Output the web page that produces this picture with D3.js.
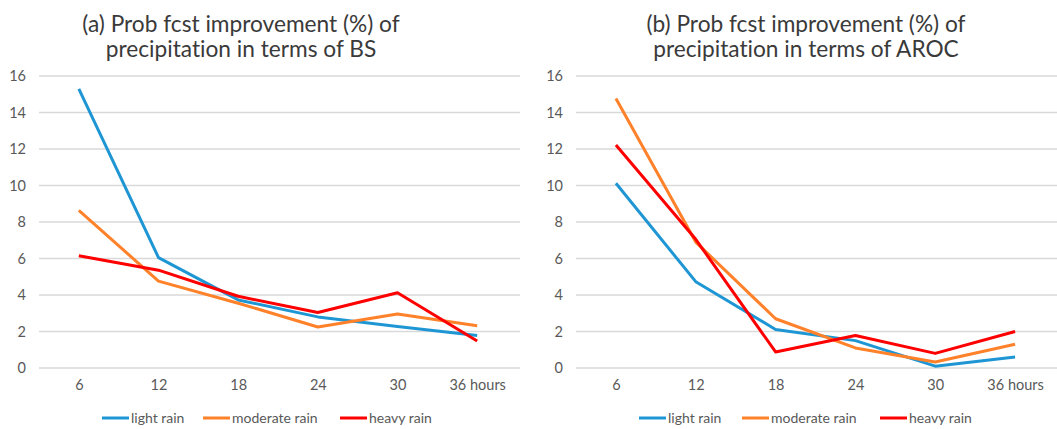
<!DOCTYPE html>
<html>
<head>
<meta charset="utf-8">
<script src="https://cdn.jsdelivr.net/npm/d3@7"></script>
<style>
  body { margin: 0; background: #fff; }
  svg { display: block; font-family: Lato, "Open Sans", sans-serif; font-variant-ligatures: none; }
</style>
</head>
<body>
<svg id="chart" width="1057" height="429"></svg>
<script>
var hours = ['6', '12', '18', '24', '30', '36 hours'];
var yTicks = [0, 2, 4, 6, 8, 10, 12, 14, 16];
var seriesNames = ['light rain', 'moderate rain', 'heavy rain'];
var seriesColors = ['#1f96d4', '#ff8129', '#ff0000'];

// (a) BS improvement
var bsLight = [15.3, 6.05, 3.73, 2.8, 2.27, 1.78];
var bsModerate = [8.64, 4.76, 3.55, 2.25, 2.96, 2.31];
var bsHeavy = [6.15, 5.36, 3.93, 3.04, 4.12, 1.48];

// (b) AROC improvement
var arocLight = [10.12, 4.73, 2.11, 1.5, 0.1, 0.6];
var arocModerate = [14.77, 6.9, 2.7, 1.1, 0.33, 1.3];
var arocHeavy = [12.22, 7.05, 0.88, 1.78, 0.8, 2.0];

(function(d3) {
  'use strict';

  var svg = d3.select('#chart');

  function drawPanel(opts) {
    var g = svg.append('g');

    var x = d3.scalePoint()
      .domain(hours)
      .range([opts.left, opts.right])
      .padding(0.5);

    var y = d3.scaleLinear()
      .domain([0, 16])
      .range([368, 76]);

    // gridlines
    g.selectAll('line.grid')
      .data(yTicks)
      .enter()
      .append('line')
      .attr('x1', opts.left)
      .attr('x2', opts.right + 3)
      .attr('y1', function(d) { return y(d); })
      .attr('y2', function(d) { return y(d); })
      .attr('stroke', '#d9d9d9')
      .attr('stroke-width', 1.3);

    // y axis labels
    var yAxis = d3.axisLeft(y).tickValues(yTicks).tickSize(0).tickPadding(0);
    var ya = g.append('g')
      .attr('transform', 'translate(' + (opts.left - 13) + ',0)')
      .call(yAxis);
    ya.select('.domain').remove();
    ya.selectAll('text')
      .attr('fill', '#595959')
      .style('font-size', '14.5px')
      .style('font-family', 'Lato, sans-serif');

    // x axis labels
    var xAxis = d3.axisBottom(x).tickSize(0).tickPadding(0);
    var xa = g.append('g')
      .attr('transform', 'translate(0,380)')
      .call(xAxis);
    xa.select('.domain').remove();
    xa.selectAll('text')
      .attr('fill', '#595959')
      .style('font-size', '14.5px')
      .style('font-family', 'Lato, sans-serif');

    var line = d3.line()
      .x(function(d, i) { return x(hours[i]); })
      .y(function(d) { return y(d); });

    opts.series.forEach(function(vals, i) {
      g.append('path')
        .datum(vals)
        .attr('d', line)
        .attr('fill', 'none')
        .attr('stroke', seriesColors[i])
        .attr('stroke-width', 3)
        .attr('stroke-linejoin', 'round');
    });

    // title
    var title = g.append('text')
      .attr('text-anchor', 'middle')
      .attr('fill', '#3a3a3a')
      .style('font-size', '22.7px');
    title.append('tspan')
      .attr('x', opts.titleX)
      .attr('y', 32)
      .text(opts.title[0]);
    title.append('tspan')
      .attr('x', opts.titleX)
      .attr('y', 57)
      .text(opts.title[1]);

    // legend
    var leg = g.selectAll('g.leg')
      .data(seriesNames)
      .enter()
      .append('g')
      .attr('transform', function(d, i) {
        return 'translate(' + opts.legendX[i] + ',418)';
      });
    leg.append('line')
      .attr('x1', 0)
      .attr('x2', 27)
      .attr('stroke', function(d, i) { return seriesColors[i]; })
      .attr('stroke-width', 3);
    leg.append('text')
      .attr('x', 29)
      .attr('dy', '0.35em')
      .attr('fill', '#595959')
      .style('font-size', '14px')
      .text(function(d) { return d; });
  }

  drawPanel({
    left: 39,
    right: 517,
    titleX: 241,
    title: ['(a) Prob fcst improvement (%) of', 'precipitation in terms of BS'],
    series: [bsLight, bsModerate, bsHeavy],
    legendX: [102, 203, 340]
  });

  drawPanel({
    left: 576,
    right: 1055,
    titleX: 806,
    title: ['(b) Prob fcst improvement (%) of', 'precipitation in terms of AROC'],
    series: [arocLight, arocModerate, arocHeavy],
    legendX: [639, 742, 880]
  });

})(window.d3);
</script>
</body>
</html>
